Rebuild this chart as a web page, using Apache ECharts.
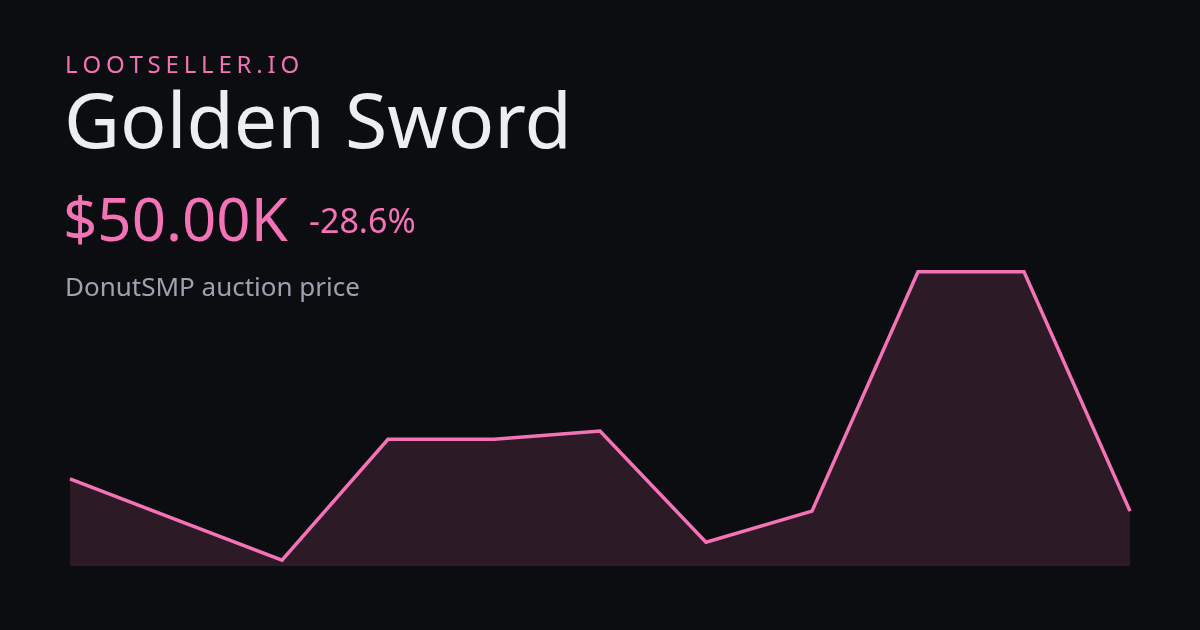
<!DOCTYPE html>
<html>
<head>
<meta charset="utf-8">
<script src="https://cdn.jsdelivr.net/npm/echarts@6/dist/echarts.min.js"></script>
<style>
html,body{margin:0;padding:0;background:#0c0d10;}
#chart{width:1200px;height:630px;}
</style>
</head>
<body>
<div id="chart"></div>
<script>
// Data
const categories = ['1','2','3','4','5','6','7','8','9','10','11'];
const prices = [52.7, 49.3, 45.9, 56.0, 56.0, 56.7, 47.4, 50.0, 70.0, 70.0, 50.0]; // thousands USD
const brand = 'LOOTSELLER.IO';
const itemName = 'Golden Sword';
const priceLabel = '$50.00K';
const changeLabel = '-28.6%';
const subtitle = 'DonutSMP auction price';

const FONT = '"Noto Sans", "Open Sans", sans-serif';
const PINK = '#f472b6';

// letter-spaced brand text as separate glyphs
const ctx = document.createElement('canvas').getContext('2d');
ctx.font = '24px ' + FONT;
const spacing = 4.8;
const brandGlyphs = [];
let bx = 65;
for (const ch of brand) {
  brandGlyphs.push({
    type: 'text', x: bx, y: 54,
    style: { text: ch, font: '24px ' + FONT, fill: PINK, verticalAlign: 'top' }
  });
  bx += ctx.measureText(ch).width + spacing;
}

const chart = echarts.init(document.getElementById('chart'), null, { renderer: 'canvas' });
chart.setOption({
  backgroundColor: '#0c0d10',
  animation: false,
  grid: { left: 70, right: 70, top: 266, bottom: 64 },
  xAxis: { type: 'category', data: categories, boundaryGap: false, show: false },
  yAxis: {
    type: 'value', show: false,
    min: v => v.min - (v.max - v.min) * 0.02,
    max: v => v.max + (v.max - v.min) * 0.02
  },
  series: [{
    type: 'line',
    data: prices,
    symbol: 'none',
    lineStyle: { color: PINK, width: 3.5, join: 'miter' },
    areaStyle: { color: 'rgba(244,114,182,0.2)' }
  }],
  graphic: [
    ...brandGlyphs,
    { type: 'text', x: 64, y: 88, style: { text: itemName, font: '77px ' + FONT, fill: '#eceef2', verticalAlign: 'top' } },
    { type: 'text', x: 63, y: 194, style: { text: priceLabel, font: '60px ' + FONT, fill: PINK, verticalAlign: 'top' } },
    { type: 'text', x: 309, y: 206, style: { text: changeLabel, font: '34px ' + FONT, fill: PINK, verticalAlign: 'top' } },
    { type: 'text', x: 65, y: 276, style: { text: subtitle, font: '26px ' + FONT, fill: '#9ca3af', verticalAlign: 'top' } }
  ]
});
</script>
</body>
</html>
